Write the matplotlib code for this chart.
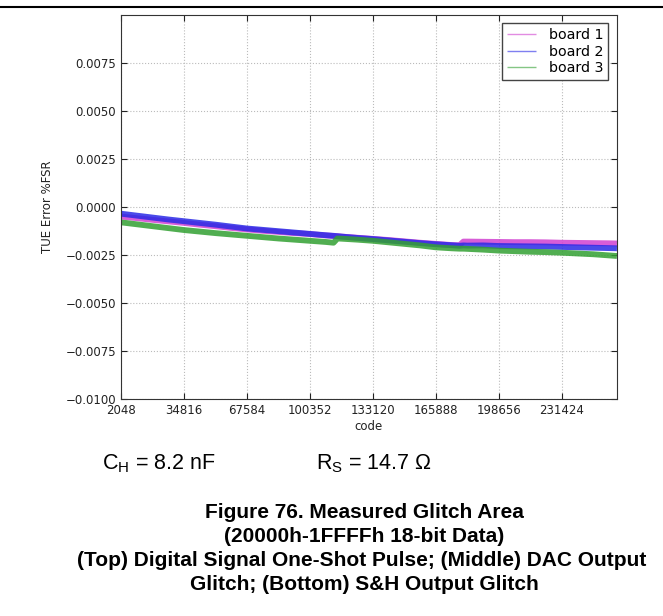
import numpy as np
import matplotlib
matplotlib.use("Agg")
import matplotlib.pyplot as plt
from matplotlib.lines import Line2D
from matplotlib.ticker import FuncFormatter

plt.rcParams['mathtext.fontset'] = 'custom'
plt.rcParams['mathtext.rm'] = 'Liberation Sans'

# codes sampled along the 18-bit range
codes = [2048, 10240, 18432, 26624, 34816, 43008, 51200, 59392, 67584, 75776,
         83968, 92160, 100352, 108544, 112640, 114688, 116736, 124928, 133120,
         141312, 149504, 157696, 165888, 174080, 178176, 180224, 182272, 190464,
         198656, 206848, 215040, 223232, 231424, 239616, 247808, 256000, 260096]

# TUE error (x 1e-3 %FSR)
board1 = [-0.50, -0.58, -0.67, -0.75, -0.83, -0.92, -1.00, -1.09, -1.17, -1.24,
          -1.30, -1.36, -1.41, -1.48, -1.51, -1.52, -1.54, -1.60, -1.66,
          -1.72, -1.79, -1.86, -1.92, -1.98, -1.99, -1.80, -1.80, -1.81,
          -1.82, -1.83, -1.83, -1.84, -1.86, -1.87, -1.88, -1.89, -1.90]
board2 = [-0.35, -0.45, -0.55, -0.65, -0.74, -0.83, -0.92, -1.02, -1.12, -1.19,
          -1.26, -1.33, -1.40, -1.47, -1.50, -1.52, -1.54, -1.61, -1.67,
          -1.74, -1.81, -1.88, -1.94, -1.99, -2.02, -2.00, -2.01, -2.00,
          -2.03, -2.04, -2.05, -2.06, -2.08, -2.10, -2.12, -2.14, -2.15]
board3 = [-0.80, -0.90, -1.00, -1.10, -1.20, -1.28, -1.36, -1.43, -1.50, -1.57,
          -1.64, -1.70, -1.76, -1.82, -1.86, -1.64, -1.65, -1.70, -1.76,
          -1.84, -1.92, -2.00, -2.10, -2.15, -2.17, -2.17, -2.18, -2.22,
          -2.27, -2.30, -2.33, -2.35, -2.38, -2.42, -2.46, -2.52, -2.55]

labels = ["board 1", "board 2", "board 3"]
colors = ["#d040d0", "#2a2ae6", "#33a033"]

xticks = [2048 + 32768 * k for k in range(8)]
yticks = [-0.01, -0.0075, -0.005, -0.0025, 0.0, 0.0025, 0.005, 0.0075]

fig = plt.figure(figsize=(6.63, 6.16), dpi=100)
ax = fig.add_axes([0.1825, 0.352, 0.748, 0.624])

x = np.array(codes)
for vals, lab, c in zip([board1, board2, board3], labels, colors):
    ax.plot(x, np.array(vals) * 1e-3, color=c, lw=4.2, alpha=0.85, label=lab,
            solid_capstyle='butt')

ax.set_xlim(2048, 260096)
ax.set_ylim(-0.01, 0.01)
ax.set_xticks(xticks)
ax.set_yticks(yticks)
ax.yaxis.set_major_formatter(FuncFormatter(
    lambda v, p: ("%.4f" % v).replace("-", "\u2212") if abs(v) > 1e-12 else "0.0000"))
ax.tick_params(direction='in', top=True, right=True, labelsize=8.5, length=4,
               colors='#222222')
ax.grid(True, color='#bbbbbb', linestyle=':', lw=0.8)
for s in ax.spines.values():
    s.set_color('#333333')
ax.set_xlabel("code", fontsize=8.5, labelpad=2, color='#222222')
ax.set_ylabel("TUE Error %FSR", fontsize=8.5, labelpad=8, color='#222222')

leg = ax.legend(loc='upper right', fontsize=10.3, fancybox=False, framealpha=1,
                edgecolor='#444444', handlelength=2.0, handletextpad=0.9,
                labelspacing=0.15, borderaxespad=0.6, borderpad=0.35)
for h in leg.get_lines():
    h.set_linewidth(1.0)
    h.set_alpha(0.6)

# top rule of the datasheet page
fig.add_artist(Line2D([0, 1], [1 - 7 / 616, 1 - 7 / 616], color='black', lw=1.5))

tfont = dict(family='Liberation Sans', fontsize=15.5)
fig.text(102 / 663, 1 - 464 / 616, r"C$_\mathregular{H}$ = 8.2 nF", va='center', **tfont)
fig.text(316 / 663, 1 - 464 / 616, r"R$_\mathregular{S}$ = 14.7 Ω", va='center', **tfont)

cap = dict(family='Liberation Sans', fontsize=15, fontweight='bold', ha='center', va='center')
fig.text(364 / 663, 1 - 513 / 616, "Figure 76. Measured Glitch Area", **cap)
fig.text(364 / 663, 1 - 537 / 616, "(20000h-1FFFFh 18-bit Data)", **cap)
fig.text(362 / 663, 1 - 561 / 616, "(Top) Digital Signal One-Shot Pulse; (Middle) DAC Output", **cap)
fig.text(364 / 663, 1 - 585 / 616, "Glitch; (Bottom) S&H Output Glitch", **cap)

fig.savefig("out.png", dpi=100)
